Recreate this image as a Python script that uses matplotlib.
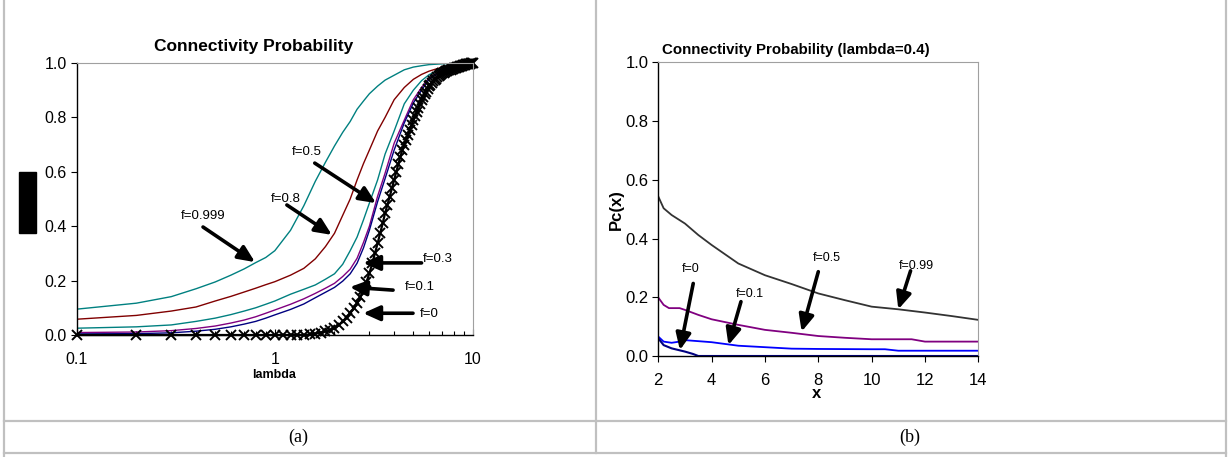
import numpy as np
import matplotlib
matplotlib.use("Agg")
import matplotlib.pyplot as plt
from matplotlib.lines import Line2D
from matplotlib.patches import Rectangle

# ---- panel (a): connectivity probability vs lambda ----
lam = [0.1, 0.2, 0.3, 0.4, 0.5, 0.6, 0.7, 0.8, 0.9, 1.0, 1.2, 1.4, 1.6, 1.8, 2.0,
       2.2, 2.4, 2.6, 2.8, 3.0, 3.3, 3.6, 4.0, 4.5, 5.0, 5.5, 6.0, 7.0, 8.0, 9.0, 10.0]
p_f0999 = [0.095, 0.117, 0.141, 0.170, 0.195, 0.220, 0.243, 0.266, 0.285, 0.310, 0.385,
           0.475, 0.565, 0.635, 0.695, 0.745, 0.785, 0.830, 0.860, 0.887, 0.915, 0.937,
           0.955, 0.975, 0.985, 0.990, 0.994, 0.997, 0.999, 1.0, 1.0]
p_f08 = [0.058, 0.072, 0.088, 0.103, 0.125, 0.142, 0.158, 0.172, 0.185, 0.196, 0.220,
         0.245, 0.280, 0.325, 0.374, 0.440, 0.500, 0.570, 0.630, 0.680, 0.750, 0.800,
         0.865, 0.910, 0.940, 0.958, 0.970, 0.985, 0.993, 0.998, 1.0]
p_f05 = [0.025, 0.030, 0.037, 0.050, 0.062, 0.075, 0.088, 0.100, 0.113, 0.125, 0.150,
         0.168, 0.184, 0.205, 0.225, 0.260, 0.310, 0.360, 0.423, 0.485, 0.570, 0.665,
         0.750, 0.850, 0.900, 0.935, 0.957, 0.980, 0.993, 0.998, 1.0]
p_f03 = [0.009, 0.011, 0.016, 0.024, 0.033, 0.044, 0.055, 0.067, 0.080, 0.092, 0.113,
         0.133, 0.153, 0.172, 0.190, 0.215, 0.242, 0.282, 0.340, 0.400, 0.510, 0.595,
         0.705, 0.790, 0.865, 0.910, 0.945, 0.975, 0.990, 0.997, 1.0]
p_f01 = [0.004, 0.005, 0.008, 0.014, 0.021, 0.030, 0.040, 0.050, 0.062, 0.074, 0.094,
         0.114, 0.137, 0.157, 0.175, 0.198, 0.225, 0.264, 0.320, 0.385, 0.490, 0.575,
         0.680, 0.780, 0.853, 0.900, 0.940, 0.973, 0.990, 0.997, 1.0]

# f=0 curve sampled every 0.1 in lambda (marked with x)
lam_fine = [round(0.1 * i, 1) for i in range(1, 101)]
p_f0 = [0.0] * 14 + [
    0.002, 0.005, 0.009, 0.013, 0.018, 0.025, 0.036, 0.050, 0.064, 0.080,
    0.098, 0.117, 0.140, 0.166, 0.195, 0.227, 0.263, 0.300, 0.337, 0.374,
    0.410, 0.448, 0.479, 0.509, 0.540, 0.570, 0.600, 0.628, 0.656, 0.680,
    0.700, 0.718, 0.737, 0.755, 0.773, 0.790, 0.805, 0.820, 0.836, 0.850,
    0.865, 0.875, 0.885, 0.895, 0.905, 0.914, 0.920, 0.926, 0.932, 0.937,
    0.942, 0.947, 0.951, 0.955, 0.959, 0.963, 0.965, 0.967, 0.969, 0.971,
    0.973, 0.975, 0.976, 0.977, 0.979, 0.980, 0.982, 0.983, 0.984, 0.985,
    0.987, 0.988, 0.989, 0.990, 0.991, 0.993, 0.994, 0.995, 0.996, 0.996,
    0.997, 0.998, 0.998, 0.999, 0.999, 1.0]

# ---- panel (b): Pc(x) at lambda = 0.4 ----
x_f099 = [2, 2.2, 2.5, 3, 3.5, 4, 5, 6, 7, 8, 9, 10, 11, 12, 13, 14]
pc_f099 = [0.543, 0.503, 0.480, 0.451, 0.412, 0.378, 0.315, 0.275, 0.245, 0.213,
           0.190, 0.168, 0.159, 0.148, 0.136, 0.123]
x_f05 = [2, 2.2, 2.4, 2.8, 3, 3.5, 4, 5, 6, 7, 8, 9, 10, 11, 11.5, 12, 14]
pc_f05 = [0.199, 0.174, 0.163, 0.163, 0.157, 0.140, 0.125, 0.106, 0.089, 0.079,
          0.068, 0.062, 0.057, 0.057, 0.057, 0.049, 0.049]
x_f01 = [2, 2.2, 2.5, 2.8, 3, 4, 5, 6, 7, 8, 10, 10.5, 11, 14]
pc_f01 = [0.066, 0.049, 0.045, 0.049, 0.054, 0.047, 0.035, 0.030, 0.025, 0.024,
          0.023, 0.023, 0.018, 0.018]
x_f0 = [2, 2.2, 2.5, 3, 3.3, 3.5, 14]
pc_f0 = [0.060, 0.037, 0.026, 0.015, 0.007, 0.0, 0.0]

W, H = 1228, 457
fig = plt.figure(figsize=(W / 100, H / 100), dpi=100)
sans = ['Liberation Sans', 'DejaVu Sans']


def fx(px):
    return px / W


def fy(py):
    return (H - py) / H


def arrow(ax, tail, head):
    ax.annotate('', xy=head, xytext=tail,
                arrowprops=dict(arrowstyle='-|>,head_length=1.0,head_width=0.45',
                                color='black', lw=2.6, shrinkA=0, shrinkB=0,
                                mutation_scale=10))


# panel (a)
ax1 = fig.add_axes([fx(76.7), fy(335), fx(473) - fx(76.7), fy(63) - fy(335)])
ax1.plot(lam, p_f0999, color='#008080', lw=1.0)
ax1.plot(lam, p_f08, color='#800000', lw=1.0)
ax1.plot(lam, p_f05, color='#008080', lw=1.0)
ax1.plot(lam, p_f03, color='#800080', lw=1.0)
ax1.plot(lam, p_f01, color='#000080', lw=1.0)
ax1.plot(lam_fine, p_f0, color='black', lw=1.6, marker='x', ms=7, mew=1.4,
         clip_on=False)
ax1.set_xscale('log')
ax1.set_xlim(0.1, 10)
ax1.set_ylim(0, 1)
ax1.set_xticks([0.1, 1, 10])
ax1.set_xticklabels(['0.1', '1', '10'], family=sans, fontsize=11.5)
ax1.set_yticks(np.arange(0, 1.01, 0.2))
ax1.set_yticklabels([f'{v:.1f}' for v in np.arange(0, 1.01, 0.2)], family=sans, fontsize=11.5)
ax1.tick_params(axis='x', which='both', direction='in', length=4, width=0.8, pad=12)
ax1.tick_params(axis='x', which='minor', length=3)
ax1.tick_params(axis='y', direction='out', length=4, width=0.8, pad=3)
for s in ['top', 'right']:
    ax1.spines[s].set_color('#a0a0a0')
for s in ['left', 'bottom']:
    ax1.spines[s].set_color('black')
    ax1.spines[s].set_linewidth(1.0)

lab_kw = dict(family=sans, fontsize=9.5, ha='center', va='center')
ax1.text(1.45, 0.673, 'f=0.5', **lab_kw)
arrow(ax1, (1.59, 0.632), (3.24, 0.485))
ax1.text(1.13, 0.50, 'f=0.8', **lab_kw)
arrow(ax1, (1.15, 0.478), (1.94, 0.368))
ax1.text(0.434, 0.437, 'f=0.999', **lab_kw)
arrow(ax1, (0.434, 0.397), (0.794, 0.268))
ax1.text(6.65, 0.279, 'f=0.3', **lab_kw)
arrow(ax1, (5.5, 0.265), (2.79, 0.265))
ax1.text(5.4, 0.176, 'f=0.1', **lab_kw)
arrow(ax1, (3.95, 0.165), (2.39, 0.176))
ax1.text(6.0, 0.077, 'f=0', **lab_kw)
arrow(ax1, (4.98, 0.08), (2.79, 0.08))

fig.text(fx(254), fy(47), 'Connectivity Probability', family=sans, fontsize=12.5,
         fontweight='bold', ha='center', va='center')
fig.text(fx(274), fy(375), 'lambda', family=sans, fontsize=9,
         fontweight='bold', ha='center', va='center')
fig.add_artist(Rectangle((fx(19), fy(233)), fx(36) - fx(19), fy(172) - fy(233),
                         transform=fig.transFigure, color='black'))

# panel (b)
ax2 = fig.add_axes([fx(658.3), fy(356), fx(978.3) - fx(658.3), fy(62.3) - fy(356)])
ax2.plot(x_f099, pc_f099, color='#333333', lw=1.3)
ax2.plot(x_f05, pc_f05, color='#800080', lw=1.3)
ax2.plot(x_f01, pc_f01, color='#0000ff', lw=1.3)
ax2.plot(x_f0, pc_f0, color='#000080', lw=1.5)
ax2.set_xlim(2, 14)
ax2.set_ylim(0, 1)
ax2.set_xticks(range(2, 15, 2))
ax2.set_xticklabels([str(v) for v in range(2, 15, 2)], family=sans, fontsize=12)
ax2.set_yticks(np.arange(0, 1.01, 0.2))
ax2.set_yticklabels([f'{v:.1f}' for v in np.arange(0, 1.01, 0.2)], family=sans, fontsize=12)
ax2.tick_params(direction='out', length=4, width=0.8, pad=3)
ax2.tick_params(axis='x', pad=8)
for s in ['top', 'right']:
    ax2.spines[s].set_color('#a0a0a0')
for s in ['left', 'bottom']:
    ax2.spines[s].set_color('black')
    ax2.spines[s].set_linewidth(1.0)

lab_kw2 = dict(family=sans, fontsize=9, ha='center', va='center')
ax2.text(3.21, 0.295, 'f=0', **lab_kw2)
arrow(ax2, (3.31, 0.247), (2.81, 0.02))
ax2.text(5.44, 0.211, 'f=0.1', **lab_kw2)
arrow(ax2, (5.1, 0.185), (4.63, 0.037))
ax2.text(8.31, 0.335, 'f=0.5', **lab_kw2)
arrow(ax2, (8.0, 0.287), (7.375, 0.083))
ax2.text(11.69, 0.308, 'f=0.99', **lab_kw2)
arrow(ax2, (11.46, 0.29), (11.0, 0.159))

fig.text(fx(795.5), fy(50), 'Connectivity Probability (lambda=0.4)', family=sans,
         fontsize=10.8, fontweight='bold', ha='center', va='center')
fig.text(fx(616), fy(210), 'Pc(x)', family=sans, fontsize=12, fontweight='bold',
         rotation=90, ha='center', va='center')
fig.text(fx(817), fy(393), 'x', family=sans, fontsize=12, fontweight='bold',
         ha='center', va='center')

# table grid lines and captions
grid_kw = dict(transform=fig.transFigure, color='#c0c0c0', lw=1.6)
fig.add_artist(Line2D([fx(4), fx(4)], [fy(0), fy(457)], **grid_kw))
fig.add_artist(Line2D([fx(596), fx(596)], [fy(0), fy(453)], **grid_kw))
fig.add_artist(Line2D([fx(1226), fx(1226)], [fy(0), fy(457)], **grid_kw))
fig.add_artist(Line2D([fx(4), fx(1226)], [fy(421), fy(421)], **grid_kw))
fig.add_artist(Line2D([fx(4), fx(1226)], [fy(453), fy(453)], **grid_kw))

cap_kw = dict(family=['Liberation Serif', 'DejaVu Serif'], fontsize=13,
              ha='center', va='center')
fig.text(fx(298), fy(437), '(a)', **cap_kw)
fig.text(fx(910), fy(437), '(b)', **cap_kw)

fig.savefig('out.png', dpi=100)
